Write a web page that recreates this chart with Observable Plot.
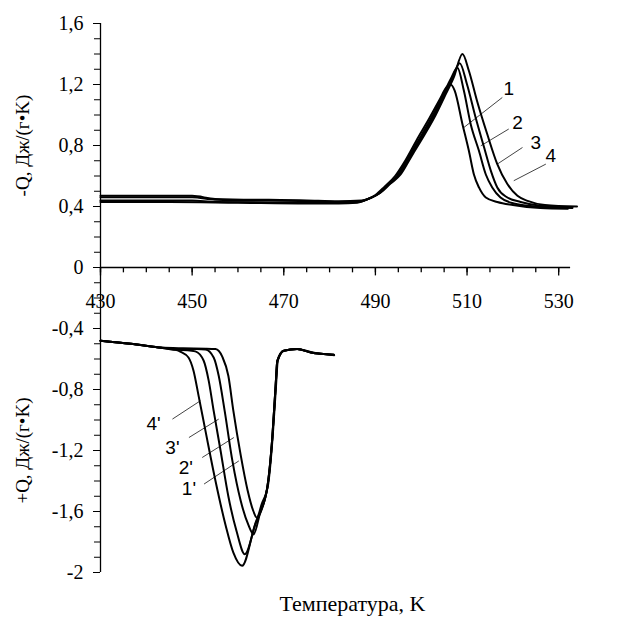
<!DOCTYPE html>
<html>
<head>
<meta charset="utf-8">
<script src="https://cdn.jsdelivr.net/npm/d3@7"></script>
<script src="https://cdn.jsdelivr.net/npm/@observablehq/plot@0.6"></script>
<style>
  html, body { margin: 0; padding: 0; background: #fff; }
  #chart { width: 622px; height: 623px; }
  #chart svg text { font-family: "Liberation Serif", "Times New Roman", serif; }
  #chart svg g.curve-labels text { font-family: "Liberation Sans", Arial, sans-serif; }
</style>
</head>
<body>
<div id="chart"></div>
<script>
// ---- Data (temperature K, heat flow) ----
// Upper group (-Q), curves 1..4
const curve1 = [[430,0.43],[445,0.43],[460,0.425],[475,0.42],[482,0.42],[486,0.425],[488,0.445],[490,0.475],[492,0.53],[494.3,0.6],[496.5,0.7],[498.9,0.83],[501.8,0.98],[504,1.1],[505.6,1.185],[506.4,1.2],[507.3,1.16],[509,0.94],[510.4,0.765],[511.5,0.61],[512.6,0.525],[514.1,0.459],[516.6,0.43],[520,0.41],[526,0.39],[532,0.385]];
const curve2 = [[430,0.44],[450,0.44],[455,0.43],[475,0.425],[482,0.425],[486.5,0.43],[488.5,0.45],[490.5,0.48],[492.5,0.535],[494.7,0.6],[496.9,0.71],[499.3,0.83],[502.2,0.98],[504.4,1.11],[506.5,1.24],[507.9,1.31],[509.3,1.16],[510.8,0.94],[512.6,0.765],[514.1,0.61],[515.5,0.525],[517.3,0.459],[520.2,0.42],[525,0.4],[533,0.39]];
const curve3 = [[430,0.46],[450,0.46],[455,0.445],[475,0.435],[482,0.43],[486.8,0.435],[488.8,0.455],[490.8,0.485],[492.9,0.545],[495.1,0.605],[497.3,0.715],[499.6,0.83],[502.5,0.98],[504.7,1.115],[506.8,1.246],[508.4,1.34],[510,1.2],[511.9,0.98],[513.7,0.79],[515.2,0.634],[516.6,0.525],[518.8,0.459],[521.7,0.43],[526,0.405],[533,0.395]];
const curve4 = [[430,0.47],[450,0.47],[455,0.45],[475,0.44],[482,0.435],[487,0.44],[489,0.457],[491.1,0.49],[493.3,0.55],[495.5,0.61],[497.7,0.72],[499.9,0.83],[502.8,0.98],[505,1.115],[507.1,1.246],[509,1.4],[510.4,1.29],[512.2,1.09],[514.4,0.875],[516.6,0.678],[518.8,0.547],[521,0.47],[523.2,0.437],[527,0.41],[534,0.4]];
// Lower group (+Q), curves 1'..4'
const curve1p = [[430,-0.48],[436.6,-0.5],[443.1,-0.525],[448,-0.53],[453,-0.532],[455.1,-0.535],[456.6,-0.586],[457.9,-0.71],[459,-0.94],[460.6,-1.23],[462.1,-1.46],[463.4,-1.6],[464.1,-1.64],[465.2,-1.55],[466.6,-1.42],[467.6,-1.1],[468.3,-0.78],[468.7,-0.61],[470.1,-0.545],[473,-0.535],[476,-0.555],[481,-0.575]];
const curve2p = [[430,-0.48],[436.6,-0.5],[443.1,-0.525],[447,-0.535],[451,-0.535],[452.9,-0.537],[454.7,-0.59],[455.8,-0.71],[457.1,-0.94],[458.8,-1.27],[460.6,-1.53],[462.3,-1.69],[463.4,-1.75],[464.9,-1.6],[466.4,-1.443],[467.5,-1.115],[468.2,-0.787],[468.6,-0.612],[470,-0.546],[472.9,-0.535],[475.9,-0.557],[480.9,-0.572]];
const curve3p = [[430,-0.48],[436.6,-0.5],[443.1,-0.526],[446.4,-0.54],[449,-0.542],[450.7,-0.55],[452.5,-0.61],[453.6,-0.74],[454.7,-0.94],[456.2,-1.2],[457.9,-1.5],[459.7,-1.73],[461.5,-1.88],[463.9,-1.67],[466.4,-1.443],[467.5,-1.115],[468.2,-0.787],[468.6,-0.612],[470,-0.546],[472.9,-0.535],[475.9,-0.557],[480.9,-0.572]];
const curve4p = [[430,-0.48],[436.6,-0.5],[443.1,-0.526],[446.4,-0.54],[447.5,-0.553],[449.2,-0.59],[450.3,-0.677],[451.4,-0.84],[452.9,-1.07],[455.1,-1.4],[457.3,-1.69],[459,-1.87],[460.9,-1.956],[463.6,-1.7],[466.4,-1.443],[467.5,-1.115],[468.2,-0.787],[468.6,-0.612],[470,-0.546],[472.9,-0.535],[475.9,-0.557],[480.9,-0.572]];

// Curve labels and leader lines
const labelNames = ["1", "2", "3", "4", "4'", "3'", "2'", "1'"];
const labelT     = [519.1, 521.0, 525.0, 528.3, 441.6, 445.7, 448.6, 449.3];
const labelQ     = [1.172, 0.951, 0.820, 0.732, -1.027, -1.180, -1.311, -1.453];
const leaderT1   = [517.7, 519.1, 522.1, 527.2, 445.7, 449.3, 452.2, 452.6];
const leaderQ1   = [1.115, 0.908, 0.787, 0.678, -0.994, -1.115, -1.246, -1.420];
const leaderT2   = [509.3, 513.0, 516.6, 520.2, 451.8, 455.8, 459.1, 460.2];
const leaderQ2   = [0.918, 0.798, 0.678, 0.569, -0.874, -0.994, -1.115, -1.268];

// Axes
const xMajor = [430, 450, 470, 490, 510, 530];
const xMinor = d3.range(430, 531, 5);
const xAxisEnd = 532.6;
const yMajor = [-2, -1.6, -1.2, -0.8, -0.4, 0, 0.4, 0.8, 1.2, 1.6];
const yMinor = d3.range(-20, 17).map(d => d / 10);
const yTitleTop = "-Q, Дж/(г•K)";
const yTitleBottom = "+Q, Дж/(г•K)";
const xTitle = "Температура, K";

const fmt = d => {
  if (Math.abs(d) < 1e-9) return "0";
  if (Number.isInteger(d)) return String(d);
  return d.toFixed(1).replace(".", ",");
};

const leaders = labelNames.map((n, i) => ({x1: leaderT1[i], y1: leaderQ1[i], x2: leaderT2[i], y2: leaderQ2[i]}));
const labels = labelNames.map((n, i) => ({name: n, x: labelT[i], y: labelQ[i]}));

const lineOpts = {x: d => d[0], y: d => d[1], stroke: "#000", strokeWidth: 2, curve: "monotone-x"};

const chart = Plot.plot({
  width: 622,
  height: 623,
  marginLeft: 100,
  marginRight: 18,
  marginTop: 23,
  marginBottom: 51,
  x: {domain: [430, 540], axis: null},
  y: {domain: [-2, 1.6], axis: null},
  style: {background: "#fff", color: "#000", fontFamily: "'Liberation Serif', 'Times New Roman', serif"},
  marks: [
    // y axis (left frame edge = 430)
    Plot.ruleX([430], {y1: -2, y2: 1.6, stroke: "#000", strokeWidth: 1.3}),
    Plot.axisY({ticks: yMinor, tickSize: 6, tickFormat: () => "", label: null, stroke: "#000"}),
    Plot.axisY({ticks: yMajor, tickSize: 7, tickPadding: 10, tickFormat: fmt, label: null,
      fontSize: 20, fill: "#000"}),
    // x axis at Q = 0
    Plot.ruleY([0], {x1: 430, x2: xAxisEnd, stroke: "#000", strokeWidth: 1.3}),
    Plot.ruleX(xMinor, {x: d => d, y1: 0, y2: -0.035, stroke: "#000", strokeWidth: 1.3}),
    Plot.ruleX(xMajor, {x: d => d, y1: 0, y2: -0.055, stroke: "#000", strokeWidth: 1.3}),
    Plot.text(xMajor, {x: d => d, y: 0, dy: 34, text: d => String(d), fontSize: 20, fill: "#000"}),
    // axis titles
    Plot.text([yTitleTop], {x: () => 430, y: () => 0.8, dx: -78, rotate: -90, text: d => d, fontSize: 19, fill: "#000"}),
    Plot.text([yTitleBottom], {x: () => 430, y: () => -1.2, dx: -78, rotate: -90, text: d => d, fontSize: 19, fill: "#000"}),
    Plot.text([xTitle], {frameAnchor: "bottom", dy: 38, text: d => d, fontSize: 22, fill: "#000"}),
    // leader lines and labels
    Plot.link(leaders, {x1: "x1", y1: "y1", x2: "x2", y2: "y2", stroke: "#444", strokeWidth: 1}),
    Plot.text(labels, {x: "x", y: "y", text: "name", fontSize: 19, fill: "#000", className: "curve-labels"}),
    // curves
    Plot.line(curve1, lineOpts),
    Plot.line(curve2, lineOpts),
    Plot.line(curve3, lineOpts),
    Plot.line(curve4, lineOpts),
    Plot.line(curve1p, lineOpts),
    Plot.line(curve2p, lineOpts),
    Plot.line(curve3p, lineOpts),
    Plot.line(curve4p, lineOpts)
  ]
});
document.getElementById("chart").appendChild(chart);
</script>
</body>
</html>
